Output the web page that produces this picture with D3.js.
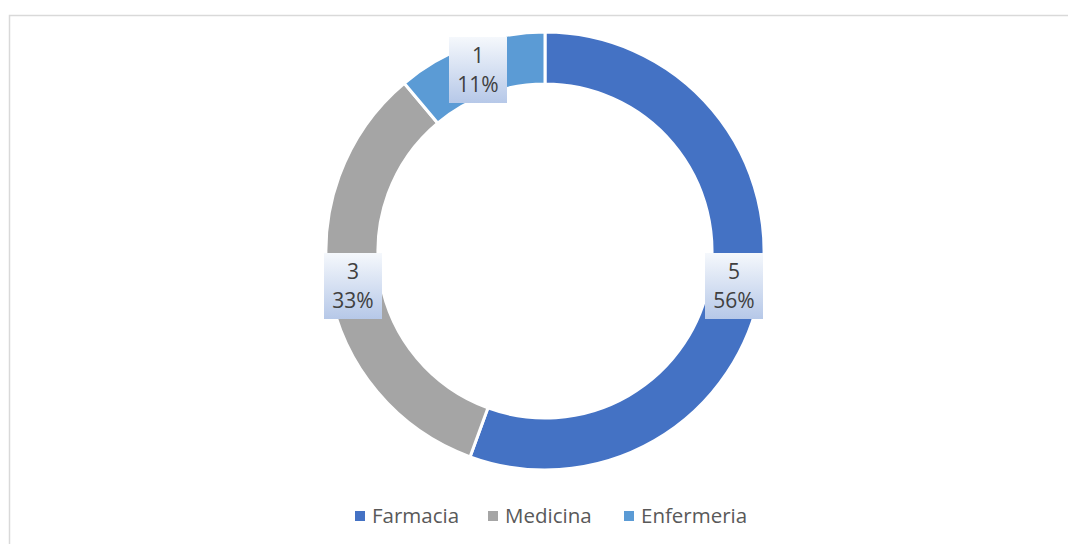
<!DOCTYPE html>
<html>
<head>
<script src="https://cdnjs.cloudflare.com/ajax/libs/d3/7.8.5/d3.min.js"></script>
<style>
  body { margin: 0; background: #fff; }
  text { font-family: 'Open Sans', 'Noto Sans', sans-serif; }
</style>
</head>
<body>
<div id="root"></div>
<script>
const categories = ['Farmacia', 'Medicina', 'Enfermeria']
const values = [5, 3, 1]
const colors = ['#4472c4', '#a5a5a5', '#5b9bd5']

const w = 1068, h = 544
const cx = 545, cy = 251
const outerR = 219, innerR = 167

const svg = d3.select('#root').append('svg')
  .attr('width', w).attr('height', h)

// gradient for labels
const grad = svg.append('defs').append('linearGradient')
  .attr('id', 'lblgrad').attr('x1', 0).attr('y1', 0).attr('x2', 0).attr('y2', 1)
grad.append('stop').attr('offset', '0%').attr('stop-color', '#f5f8fc')
grad.append('stop').attr('offset', '100%').attr('stop-color', '#b6c8e8')

// chart border
svg.append('rect')
  .attr('x', 9.5).attr('y', 15.5).attr('width', w + 20).attr('height', h + 20)
  .attr('fill', 'none').attr('stroke', '#d9d9d9').attr('stroke-width', 1.5)

const total = d3.sum(values)
const pie = d3.pie().sort(null).value(d => d)
const arcs = pie(values)
const arc = d3.arc().innerRadius(innerR).outerRadius(outerR)

const g = svg.append('g').attr('transform', `translate(${cx},${cy})`)

g.selectAll('path')
  .data(arcs)
  .enter()
  .append('path')
  .attr('d', arc)
  .attr('fill', (d, i) => colors[i])
  .attr('stroke', '#fff')
  .attr('stroke-width', 3)

// labels
const labelPos = [
  { x: 734, y: 286 },
  { x: 353, y: 286 },
  { x: 478, y: 70 }
]
const lbl = svg.selectAll('.lbl')
  .data(arcs)
  .enter()
  .append('g')
  .attr('class', 'lbl')
  .attr('transform', (d, i) => `translate(${labelPos[i].x},${labelPos[i].y})`)

lbl.append('rect')
  .attr('x', -29).attr('y', -33).attr('width', 58).attr('height', 66)
  .attr('fill', 'url(#lblgrad)')

lbl.append('text')
  .attr('text-anchor', 'middle')
  .attr('y', -7)
  .attr('font-size', 21)
  .attr('fill', '#404040')
  .text(d => d.data)

lbl.append('text')
  .attr('text-anchor', 'middle')
  .attr('y', 22)
  .attr('font-size', 21)
  .attr('fill', '#404040')
  .text(d => Math.round(d.data / total * 100) + '%')

// legend
const legX = [355, 488, 624]
const leg = svg.selectAll('.leg')
  .data(categories)
  .enter()
  .append('g')
  .attr('class', 'leg')
  .attr('transform', (d, i) => `translate(${legX[i]},516)`)

leg.append('rect')
  .attr('x', 0).attr('y', -5).attr('width', 10).attr('height', 10)
  .attr('fill', (d, i) => colors[i])

leg.append('text')
  .attr('x', 17).attr('y', 7)
  .attr('font-size', 20.5)
  .attr('fill', '#595959')
  .text(d => d)
</script>
</body>
</html>
